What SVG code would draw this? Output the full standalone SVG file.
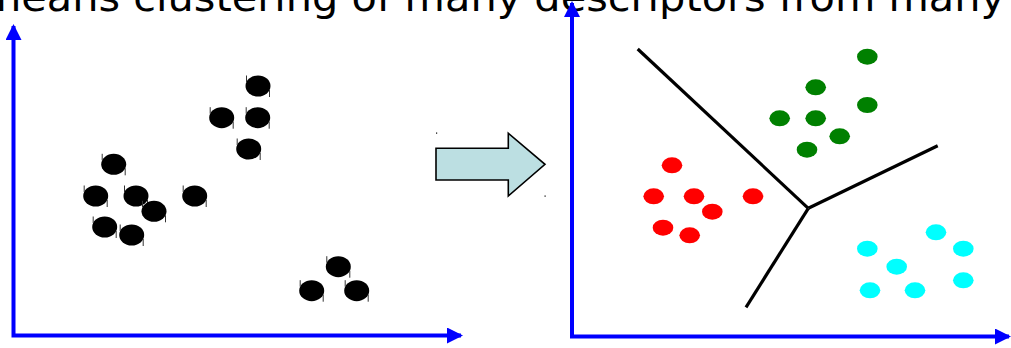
<svg xmlns="http://www.w3.org/2000/svg" width="1011" height="348" viewBox="0 0 1011 348">
  <style>
    .title { font-family: "DejaVu Sans", "Liberation Sans", sans-serif; font-size: 39px; fill: #000; }
    .axis { stroke: #0000ff; stroke-width: 4; fill: none; }
    .bound { stroke: #000; stroke-width: 3.2; fill: none; stroke-linecap: butt; }
    .pt { fill: #000; }
    .tick { stroke: #333; stroke-width: 1; }
    .g { fill: #008000; }
    .r { fill: #ff0000; }
    .c { fill: #00ffff; }
  </style>
  <defs>
    <marker id="axhead" viewBox="0 0 16 16" refX="14" refY="8" markerWidth="16" markerHeight="16" markerUnits="userSpaceOnUse" orient="auto-start-reverse">
      <path d="M0,0 L16,8 L0,16 Z" fill="#0000ff"/>
    </marker>
    <!-- raw data point: filled ellipse with two small tick marks -->
    <g id="dot">
      <ellipse cx="0" cy="0" rx="12.5" ry="10.5" class="pt"/>
      <line x1="-11.5" y1="-10.5" x2="-11.5" y2="-4" class="tick"/>
      <line x1="11.5" y1="4" x2="11.5" y2="11" class="tick"/>
    </g>
    <ellipse id="cdot" cx="0" cy="0" rx="10.3" ry="8"/>
  </defs>

  <rect width="1011" height="348" fill="#fff"/>

  <text class="title" x="-19" y="11" textLength="1024" lengthAdjust="spacingAndGlyphs">means clustering of many descriptors from many</text>

  <!-- left panel: axes -->
  <g id="axes-left">
    <path class="axis" d="M13.5,26 V335.5 H461" marker-start="url(#axhead)" marker-end="url(#axhead)"/>
  </g>

  <!-- left panel: unclustered points -->
  <g id="points-raw">
    <use href="#dot" x="258" y="86"/>
    <use href="#dot" x="221.7" y="117.7"/>
    <use href="#dot" x="257.7" y="117.7"/>
    <use href="#dot" x="248.7" y="149"/>
    <use href="#dot" x="113.7" y="164.3"/>
    <use href="#dot" x="95.7" y="196"/>
    <use href="#dot" x="136" y="196"/>
    <use href="#dot" x="154" y="211.3"/>
    <use href="#dot" x="194.7" y="196"/>
    <use href="#dot" x="104.7" y="227"/>
    <use href="#dot" x="131.7" y="235"/>
    <use href="#dot" x="338.3" y="266.7"/>
    <use href="#dot" x="311.7" y="290.7"/>
    <use href="#dot" x="356.7" y="290.7"/>
  </g>

  <!-- transition arrow -->
  <g id="block-arrow">
    <path d="M436,148.3 L508.3,148.3 L508.3,133.3 L545,164.3 L508.3,196 L508.3,180 L436,180 Z" fill="#bcdfe2" stroke="#000" stroke-width="1.6" stroke-linejoin="miter"/>
    <rect x="436" y="132.5" width="1.2" height="1.2" fill="#000"/>
    <rect x="544.5" y="195.5" width="1.2" height="1.2" fill="#000"/>
  </g>

  <!-- right panel: axes -->
  <g id="axes-right">
    <path class="axis" d="M572,3 V336.5 H1009" marker-start="url(#axhead)" marker-end="url(#axhead)"/>
  </g>

  <!-- cluster boundaries -->
  <g id="boundaries">
    <line class="bound" x1="637.7" y1="49" x2="808.3" y2="208.3"/>
    <line class="bound" x1="808.3" y1="208.3" x2="937.7" y2="145.7"/>
    <line class="bound" x1="808.3" y1="208.3" x2="746" y2="307.3"/>
  </g>

  <g id="cluster-green" class="g">
    <use href="#cdot" x="867.3" y="56.7"/>
    <use href="#cdot" x="815.7" y="87.3"/>
    <use href="#cdot" x="867.3" y="105"/>
    <use href="#cdot" x="779.7" y="118.3"/>
    <use href="#cdot" x="815.7" y="118.3"/>
    <use href="#cdot" x="839.7" y="136.3"/>
    <use href="#cdot" x="807" y="149.7"/>
  </g>

  <g id="cluster-red" class="r">
    <use href="#cdot" x="672" y="165.3"/>
    <use href="#cdot" x="653.7" y="196.3"/>
    <use href="#cdot" x="694" y="196.3"/>
    <use href="#cdot" x="753" y="196.3"/>
    <use href="#cdot" x="712.3" y="211.7"/>
    <use href="#cdot" x="663" y="227.7"/>
    <use href="#cdot" x="689.7" y="235.3"/>
  </g>

  <g id="cluster-cyan" class="c">
    <use href="#cdot" x="936" y="232.3"/>
    <use href="#cdot" x="867.3" y="248.7"/>
    <use href="#cdot" x="963.3" y="248.7"/>
    <use href="#cdot" x="896.7" y="266.7"/>
    <use href="#cdot" x="963.3" y="280.3"/>
    <use href="#cdot" x="870" y="290.3"/>
    <use href="#cdot" x="915" y="290.3"/>
  </g>
</svg>
